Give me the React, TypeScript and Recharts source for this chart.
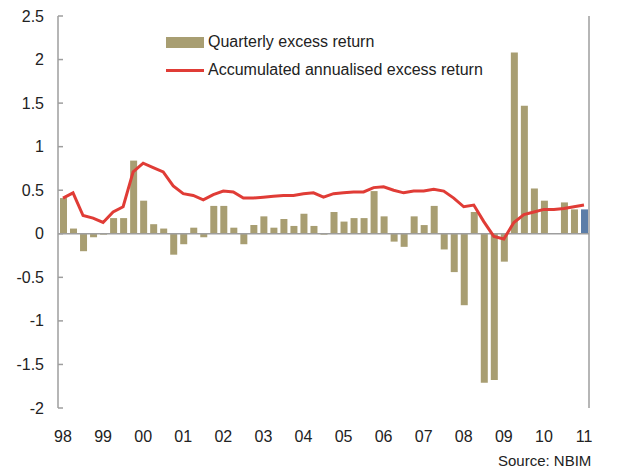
import React from 'react';
import { ComposedChart, Bar, Line, XAxis, YAxis, ReferenceLine, Legend, Cell } from 'recharts';

const quarters: string[] = [];
const years = ['98','99','00','01','02','03','04','05','06','07','08','09','10','11'];
years.forEach((y) => { ['Q1','Q2','Q3','Q4'].forEach((q) => quarters.push(y + q)); });
const categories = quarters.slice(0, 53);

const quarterlyExcess = [
  0.41, 0.06, -0.20, -0.04,
  -0.01, 0.18, 0.18, 0.84,
  0.38, 0.11, 0.06, -0.24,
  -0.12, 0.07, -0.04, 0.32,
  0.32, 0.07, -0.12, 0.10,
  0.20, 0.07, 0.17, 0.09,
  0.23, 0.09, -0.01, 0.25,
  0.14, 0.18, 0.18, 0.49,
  0.20, -0.09, -0.15, 0.20,
  0.10, 0.32, -0.18, -0.44,
  -0.82, 0.25, -1.71, -1.68,
  -0.32, 2.08, 1.47, 0.52,
  0.38, 0.00, 0.36, 0.28,
  0.28,
];

const accumulated = [
  0.41, 0.47, 0.21, 0.18,
  0.13, 0.25, 0.31, 0.71,
  0.81, 0.76, 0.71, 0.55,
  0.46, 0.44, 0.39, 0.45,
  0.49, 0.48, 0.41, 0.41,
  0.42, 0.43, 0.44, 0.44,
  0.46, 0.47, 0.42, 0.46,
  0.47, 0.48, 0.48, 0.53,
  0.54, 0.50, 0.47, 0.49,
  0.49, 0.51, 0.49, 0.41,
  0.31, 0.33, 0.14, -0.03,
  -0.06, 0.13, 0.22, 0.25,
  0.28, 0.28, 0.29, 0.31,
  0.33,
];

const yTicks = [-2, -1.5, -1, -0.5, 0, 0.5, 1, 1.5, 2, 2.5];
const xTicks = years.map((y) => y + 'Q1');

const OLIVE = '#A89E72';
const BLUE = '#5B7DA8';
const RED = '#E03C36';
const AXIS = '#9E9E9E';
const FONT = '"Liberation Sans", Arial, sans-serif';
const TEXT = '#222222';

const LEFT_MARGIN = 14;
const RIGHT_MARGIN = 13;
const TICK_LEN = 5;

const data = categories.map((c, i) => ({
  q: c,
  bar: quarterlyExcess[i],
  line: accumulated[i],
}));

const LeftTick = (props: any) => {
  const { x, y, payload } = props;
  const axisX = x + LEFT_MARGIN;
  return (
    <g>
      <line x1={axisX} x2={axisX + TICK_LEN} y1={y} y2={y} stroke={AXIS} strokeWidth={1.5} />
      <text x={x} y={y} dy="0.35em" textAnchor="end" fontFamily={FONT} fontSize={16} fill={TEXT}>
        {String(payload.value)}
      </text>
    </g>
  );
};

const RightTick = (props: any) => {
  const { x, y, payload } = props;
  const axisX = x - RIGHT_MARGIN;
  return (
    <g>
      <line x1={axisX - TICK_LEN} x2={axisX} y1={y} y2={y} stroke={AXIS} strokeWidth={1.5} />
      <text x={x} y={y} dy="0.35em" textAnchor="start" fontFamily={FONT} fontSize={16} fill={TEXT}>
        {String(payload.value)}
      </text>
    </g>
  );
};

const LegendContent = () => (
  <div style={{ fontFamily: FONT, fontSize: 16, color: TEXT, lineHeight: '28px' }}>
    <div style={{ display: 'flex', alignItems: 'center', height: 28 }}>
      <span style={{ display: 'inline-block', width: 38, height: 11, background: OLIVE, marginRight: 4 }} />
      <span>Quarterly excess return</span>
    </div>
    <div style={{ display: 'flex', alignItems: 'center', height: 28 }}>
      <span style={{ display: 'inline-block', width: 38, height: 3, background: RED, marginRight: 4 }} />
      <span>Accumulated annualised excess return</span>
    </div>
  </div>
);

export default function App() {
  return (
    <div style={{ position: 'absolute', left: 0, top: 0, width: 643, height: 468, background: '#fff' }}>
      <ComposedChart
        width={643}
        height={468}
        data={data}
        margin={{ top: 16, right: 0, bottom: 0, left: 0 }}
        barCategoryGap={0}
      >
        <XAxis
          dataKey="q"
          ticks={xTicks}
          interval={0}
          tickFormatter={(v: string) => v.slice(0, 2)}
          axisLine={false}
          tickLine={false}
          tickSize={0}
          tickMargin={23}
          height={60}
          tick={{ fontFamily: FONT, fontSize: 16, fill: TEXT }}
        />
        <YAxis
          yAxisId="left"
          orientation="left"
          domain={[-2, 2.5]}
          ticks={yTicks}
          interval={0}
          width={58}
          axisLine={{ stroke: AXIS, strokeWidth: 1.5 }}
          tickLine={false}
          tickSize={0}
          tickMargin={LEFT_MARGIN}
          tick={<LeftTick />}
        />
        <YAxis
          yAxisId="right"
          orientation="right"
          domain={[-2, 2.5]}
          ticks={yTicks}
          interval={0}
          width={54}
          axisLine={{ stroke: AXIS, strokeWidth: 1.5 }}
          tickLine={false}
          tickSize={0}
          tickMargin={RIGHT_MARGIN}
          tick={<RightTick />}
        />
        <ReferenceLine yAxisId="left" y={0} stroke={AXIS} strokeWidth={1.5} />
        <Legend
          layout="vertical"
          align="center"
          verticalAlign="middle"
          content={<LegendContent />}
          wrapperStyle={{ position: 'absolute', top: 28, left: 166, width: 'auto', height: 'auto' }}
        />
        <Bar yAxisId="left" dataKey="bar" barSize={7} fill={OLIVE} isAnimationActive={false}>
          {data.map((d, i) => (
            <Cell key={d.q} fill={i === data.length - 1 ? BLUE : OLIVE} />
          ))}
        </Bar>
        <Line
          yAxisId="left"
          dataKey="line"
          type="linear"
          stroke={RED}
          strokeWidth={3}
          dot={false}
          activeDot={false}
          isAnimationActive={false}
        />
      </ComposedChart>
      <div
        style={{
          position: 'absolute',
          left: 498,
          top: 452,
          fontFamily: FONT,
          fontSize: 15,
          color: TEXT,
          whiteSpace: 'nowrap',
          lineHeight: '18px',
        }}
      >
        Source: NBIM
      </div>
    </div>
  );
}
